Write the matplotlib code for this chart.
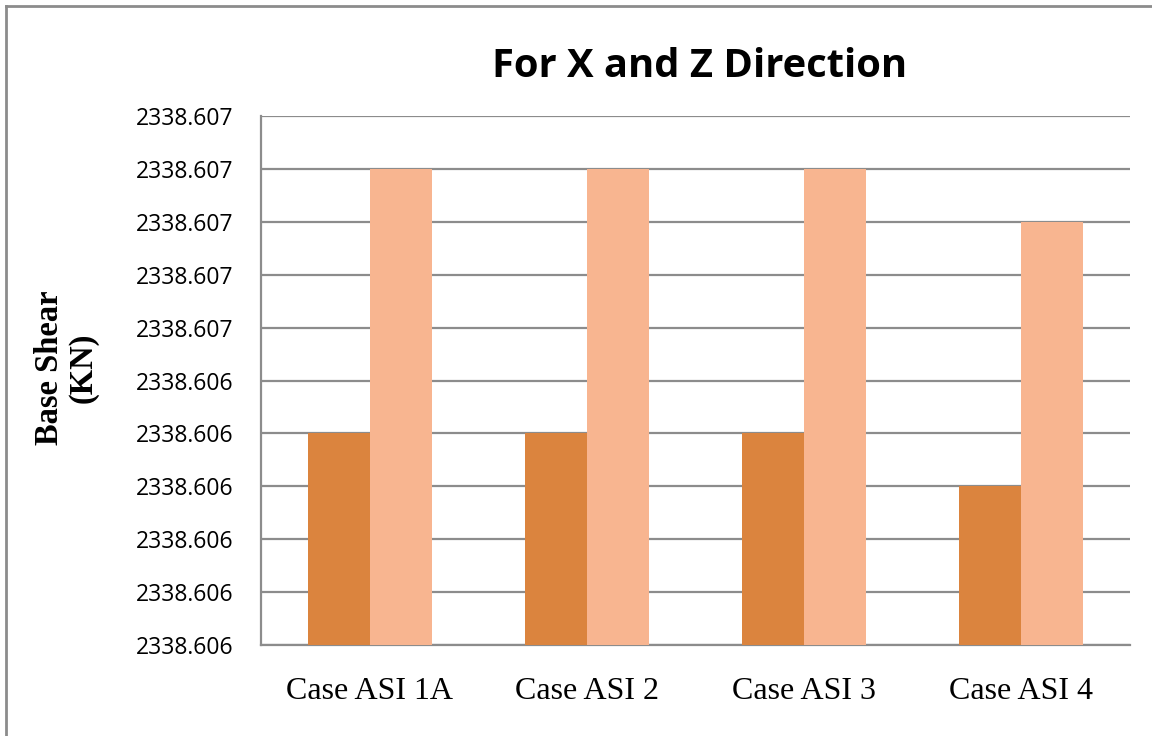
import matplotlib
matplotlib.use("Agg")
import matplotlib.pyplot as plt
import numpy as np
from matplotlib.ticker import FormatStrFormatter
from matplotlib.lines import Line2D

categories = ["Case ASI 1A", "Case ASI 2", "Case ASI 3", "Case ASI 4"]
x_direction = [2338.60632, 2338.60632, 2338.60632, 2338.60622]
z_direction = [2338.60682, 2338.60682, 2338.60682, 2338.60672]
y_min, y_max, y_step = 2338.60592, 2338.60692, 0.0001

dark = "#DB843E"
light = "#F8B590"
grid_col = "#8C8C8C"

W, H = 1152, 736
fig = plt.figure(figsize=(W / 100, H / 100), dpi=100)
ax = fig.add_axes([261 / W, 1 - 645 / H, (1130 - 261) / W, (645 - 116) / H])

x = np.arange(len(categories))
w = 0.285
ax.bar(x - w / 2, x_direction, w, color=dark, zorder=3)
ax.bar(x + w / 2, z_direction, w, color=light, zorder=3)

ax.set_xlim(-0.5, len(categories) - 0.5)
ax.set_ylim(y_min, y_max)
ax.set_yticks(y_min + y_step * np.arange(11))
ax.yaxis.set_major_formatter(FormatStrFormatter("%.3f"))
ax.grid(axis="y", color=grid_col, linewidth=1.6, zorder=0)
ax.tick_params(axis="both", length=0)
ax.tick_params(axis="y", pad=20)
ax.tick_params(axis="x", pad=23)
for s in ["top", "right"]:
    ax.spines[s].set_visible(False)
for s in ["left", "bottom"]:
    ax.spines[s].set_color(grid_col)
    ax.spines[s].set_linewidth(1.6)

ax.set_xticks(x)
ax.set_xticklabels(categories, fontsize=23, family="Liberation Serif")
for lab in ax.get_yticklabels():
    lab.set_fontsize(16.5)
    lab.set_family("Open Sans")

fig.text(699.5 / W, 1 - 77 / H, "For X and Z Direction", ha="center", va="baseline",
         fontsize=28.7, fontweight="bold", family="Open Sans")
fig.text(66 / W, 1 - 368 / H, "Base Shear\n(KN)", ha="center", va="center",
         rotation=90, fontsize=23.5, fontweight="bold", family="Liberation Serif",
         linespacing=1.1)

# chart frame
fig.add_artist(Line2D([6 / W, 6 / W], [0, 1 - 6 / H], transform=fig.transFigure,
                      color=grid_col, linewidth=2))
fig.add_artist(Line2D([6 / W, 1], [1 - 6 / H, 1 - 6 / H], transform=fig.transFigure,
                      color=grid_col, linewidth=2))

fig.savefig("out.png", dpi=100)
